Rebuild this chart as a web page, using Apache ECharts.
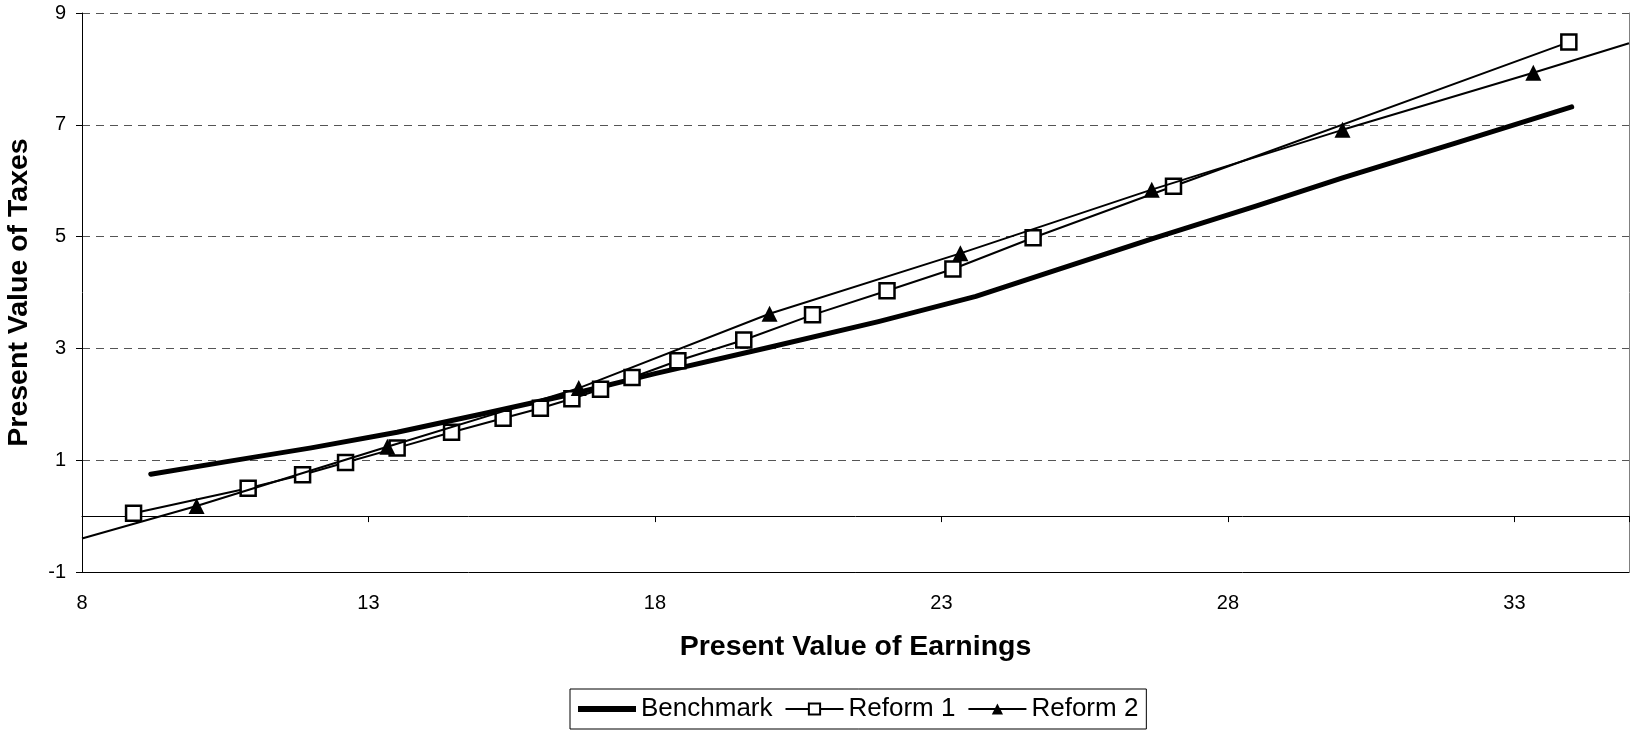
<!DOCTYPE html>
<html>
<head>
<meta charset="utf-8">
<script src="https://cdn.jsdelivr.net/npm/echarts@6/dist/echarts.min.js"></script>
<style>
html,body{margin:0;padding:0;background:#fff;}
#chart{width:1636px;height:731px;}
</style>
</head>
<body>
<div id="chart"></div>
<script>
// ---- data ----
const xTitle = 'Present Value of Earnings';
const yTitle = 'Present Value of Taxes';
const seriesNames = ['Benchmark', 'Reform 1', 'Reform 2'];

const benchmarkX = [9.2, 10.5, 12.0, 13.5, 15.0, 16.5, 18.0, 20.0, 21.9, 23.6, 25.0, 26.7, 28.5, 30.0, 32.0, 34.0];
const benchmarkY = [0.75, 0.97, 1.22, 1.50, 1.83, 2.17, 2.55, 3.02, 3.48, 3.93, 4.40, 4.97, 5.55, 6.05, 6.68, 7.32];

const reform1X = [8.9, 10.9, 11.85, 12.6, 13.5, 14.45, 15.35, 16.0, 16.55, 17.05, 17.6, 18.4, 19.55, 20.75, 22.05, 23.2, 24.6, 27.05, 33.95];
const reform1Y = [0.05, 0.50, 0.74, 0.96, 1.22, 1.50, 1.75, 1.93, 2.10, 2.27, 2.48, 2.78, 3.15, 3.60, 4.03, 4.42, 4.98, 5.90, 8.48];

// first and last entries are where the line meets the plot edges (no marker there)
const reform2X = [8.0, 10.0, 13.33, 16.67, 20.0, 23.33, 26.67, 30.0, 33.33, 35.0];
const reform2Y = [-0.40, 0.18, 1.24, 2.29, 3.62, 4.70, 5.84, 6.91, 7.93, 8.46];
const reform2Marked = [false, true, true, true, true, true, true, true, true, false];

const xMin = 8, xMax = 35, xStep = 5;
const yMin = -1, yMax = 9, yStep = 2;

// ---- build ----
const FONT = '"Liberation Sans", Arial, Helvetica, sans-serif';
const zip = (xs, ys) => xs.map((x, i) => [x, ys[i]]);

const chart = echarts.init(document.getElementById('chart'), null, {renderer: 'canvas'});

const baseX = {
  type: 'value', min: xMin, max: xMax, interval: xStep,
  splitLine: {show: false}
};

chart.setOption({
  animation: false,
  backgroundColor: '#fff',
  textStyle: {fontFamily: FONT, color: '#000'},
  grid: {left: 82, right: 7, top: 13, bottom: 159, containLabel: false, outerBoundsMode: 'none'},
  xAxis: [
    Object.assign({}, baseX, {
      position: 'bottom',
      name: xTitle,
      nameLocation: 'middle',
      nameGap: 61,
      nameTextStyle: {fontFamily: FONT, fontSize: 28.5, fontWeight: 'bold', color: '#000'},
      axisLine: {show: true, onZero: false, lineStyle: {color: '#000', width: 1}},
      axisTick: {show: false},
      axisLabel: {show: true, fontFamily: FONT, fontSize: 20, color: '#000', margin: 21, showMaxLabel: false}
    }),
    Object.assign({}, baseX, {
      position: 'bottom',
      axisLine: {show: true, onZero: true, onZeroAxisIndex: 0, lineStyle: {color: '#000', width: 1}},
      axisTick: {show: true, inside: false, length: 6, lineStyle: {color: '#000', width: 1}},
      axisLabel: {show: false}
    })
  ],
  yAxis: [
    {
      type: 'value', min: yMin, max: yMax, interval: yStep,
      position: 'left',
      name: yTitle,
      nameLocation: 'middle',
      nameGap: 48,
      nameTextStyle: {fontFamily: FONT, fontSize: 28.5, fontWeight: 'bold', color: '#000'},
      axisLine: {show: true, onZero: false, lineStyle: {color: '#000', width: 1}},
      axisTick: {show: true, length: 6, lineStyle: {color: '#000'}},
      axisLabel: {fontFamily: FONT, fontSize: 20, color: '#000', margin: 16},
      splitLine: {show: true, lineStyle: {color: '#555', width: 1, type: [8, 6]}}
    },
    {
      type: 'value', min: yMin, max: yMax, interval: yStep,
      position: 'right',
      axisLine: {show: true, onZero: false, lineStyle: {color: '#808080', width: 1}},
      axisTick: {show: false},
      axisLabel: {show: false},
      splitLine: {show: false}
    }
  ],
  legend: {
    left: 570, top: 689,
    padding: [7, 8],
    itemGap: 12,
    itemWidth: 58,
    itemHeight: 14,
    borderColor: '#000', borderWidth: 1,
    textStyle: {fontFamily: FONT, fontSize: 26, color: '#000'},
    data: [
      {name: seriesNames[0], icon: 'path://M0,0 L10,0 L10,1 L0,1 Z', itemStyle: {color: '#000'}},
      {name: seriesNames[1]},
      {name: seriesNames[2]}
    ]
  },
  series: [
    {
      name: seriesNames[0], type: 'line', xAxisIndex: 0, yAxisIndex: 0,
      data: zip(benchmarkX, benchmarkY),
      showSymbol: false, symbol: 'none',
      lineStyle: {color: '#000', width: 5, cap: 'round', join: 'round'},
      itemStyle: {color: '#000'},
      clip: true, z: 3
    },
    {
      name: seriesNames[1], type: 'line', xAxisIndex: 0, yAxisIndex: 0,
      data: zip(reform1X, reform1Y),
      symbol: 'rect', symbolSize: 15,
      lineStyle: {color: '#000', width: 2},
      itemStyle: {color: '#fff', borderColor: '#000', borderWidth: 2.5},
      clip: true, z: 4
    },
    {
      name: seriesNames[2], type: 'line', xAxisIndex: 0, yAxisIndex: 0,
      data: reform2X.map((x, i) => reform2Marked[i] ? [x, reform2Y[i]] : {value: [x, reform2Y[i]], symbol: 'none'}),
      symbol: 'triangle', symbolSize: 16,
      lineStyle: {color: '#000', width: 2},
      itemStyle: {color: '#000', borderWidth: 0},
      clip: true, z: 5
    }
  ]
});
</script>
</body>
</html>
